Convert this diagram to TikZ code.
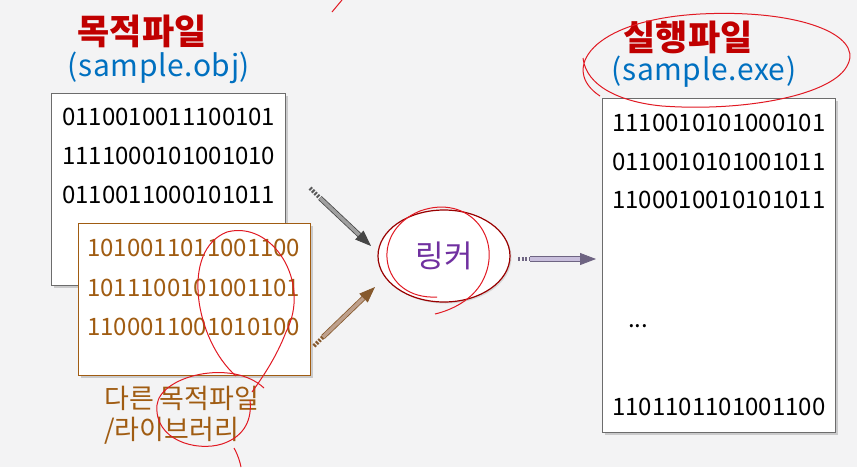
\documentclass[tikz,border=0pt]{standalone}
\usepackage{fontspec}
\setmainfont{Noto Sans CJK KR}
\newfontfamily\namefont[LetterSpace=2]{Noto Sans CJK KR}
\usepackage{tikz}
\usetikzlibrary{arrows.meta}
\usetikzlibrary{shapes.geometric,shadows}
\usetikzlibrary{positioning}

\definecolor{titlered}{RGB}{192,0,0}
\definecolor{nameblue}{RGB}{0,112,192}
\definecolor{libbrown}{RGB}{160,92,18}
\definecolor{linkpurple}{RGB}{112,48,160}
\definecolor{penred}{RGB}{225,25,35}
\definecolor{bggray}{RGB}{243,243,244}
\definecolor{tanfill}{RGB}{190,160,140}
\definecolor{lavline}{RGB}{110,100,130}
\definecolor{lavfill}{RGB}{200,190,220}

\tikzset{
  filebox/.style={draw=gray!85!black, line width=1.3pt, fill=white, anchor=north west,
    drop shadow={shadow xshift=2.5pt, shadow yshift=-2.5pt, opacity=.35}},
  bits/.style={anchor=west, inner sep=0pt, font=\fontsize{24}{24}\selectfont},
  title/.style={text=titlered, font=\fontsize{35}{35}\selectfont\bfseries},
  filename/.style={text=nameblue, font=\fontsize{30}{30}\selectfont\namefont},
  dots/.style={line width=4pt, dash pattern=on 2pt off 1.5pt},
  feed/.style={double distance=3.5pt, line width=.8pt, -{Triangle[length=16pt,width=12pt]}},
  pen/.style={draw=penred, line width=1pt},
}

\begin{document}
\begin{tikzpicture}[x=1pt, y=-1pt]
\fill[bggray] (0,0) rectangle (857,467);
\useasboundingbox (0,0) rectangle (857,467);
%
% object file
\node[title] (objtitle) at (142,31) {목적파일};
\node[filename] (objname) at (159,68) {(sample.obj)};
\node[filebox, minimum width=234pt, minimum height=192pt] (objbox) at (51,93) {};
\node[bits] (obja) at (62,117) {0110010011100101};
\node[bits] (objb) at (62,156) {1111000101001010};
\node[bits] (objc) at (62,195) {0110011000101011};
%
% other object file / library
\node[filebox, draw=libbrown, minimum width=232pt, minimum height=152pt] (libbox) at (78,223) {};
\node[bits, text=libbrown] (liba) at (87,248) {1010011011001100};
\node[bits, text=libbrown] (libb) at (87,288) {1011100101001101};
\node[bits, text=libbrown] (libc) at (87,327) {1100011001010100};
\node[anchor=north west, align=left, text=libbrown, inner sep=0pt,
  font=\fontsize{27}{31}\selectfont] (libname) at (104,386) {다른 목적파일\\/라이브러리};
%
% linker
\node[ellipse, draw=red!60!black, line width=1.2pt, fill=white, minimum width=132pt, minimum height=92pt,
  drop shadow={shadow xshift=1.5pt, shadow yshift=-1.5pt, opacity=.25},
  text=linkpurple, font=\fontsize{31}{31}\selectfont] (linker) at (444,256) {링커};
%
% executable file
\node[title] (exetitle) at (688,37) {실행파일};
\node[filename] (exename) at (704,72) {(sample.exe)};
\node[filebox, minimum width=233pt, minimum height=334pt] (exebox) at (602,98) {};
\node[bits] (exea) at (612,123) {1110010101000101};
\node[bits] (exeb) at (612,162) {0110010101001011};
\node[bits] (exec) at (612,200) {1100010010101011};
\node[bits, anchor=base west] (exedots) at (628,327) {...};
\node[bits] (exed) at (612,407) {1101101101001100};
%
% arrows
\coordinate (objtail) at (310,188);
\coordinate (objout) at (320,198);
\coordinate (objin) at (371,246);
\coordinate (libtail) at (314,346);
\coordinate (libout) at (323,337);
\coordinate (libin) at (375,287);
\coordinate (linktail) at (518,259);
\coordinate (linkout) at (530,259);
\coordinate (exein) at (596,259);
\draw[dots, gray!70!black] (objtail) -- (objout);
\draw[feed, draw=gray!55!black, double=gray!75] (objout) -- (objin);
\draw[dots, brown!70!black] (libtail) -- (libout);
\draw[feed, draw=brown!70!black, double=tanfill] (libout) -- (libin);
\draw[dots, lavline] (linktail) -- (linkout);
\draw[feed, draw=lavline, double=lavfill] (linkout) -- (exein);
%
% pen marks
\draw[pen] (332,12) -- (342,0);
\draw[pen] (600,96) .. controls (560,70) and (590,20) .. (700,14) .. controls (800,9) and (862,35) .. (848,64)
  .. controls (835,95) and (745,112) .. (662,106) .. controls (620,102) and (586,86) .. (583,58);
\draw[pen] (437,297) .. controls (380,300) and (368,232) .. (420,211) .. controls (470,193) and (505,240) .. (482,282)
  .. controls (472,300) and (452,310) .. (435,314);
\draw[pen] (236,376) .. controls (195,340) and (180,250) .. (227,232) .. controls (272,220) and (312,282) .. (286,332)
  .. controls (276,358) and (262,378) .. (252,392);
\draw[pen] (264,388) .. controls (232,358) and (160,376) .. (157,405) .. controls (154,440) and (196,452) .. (222,444)
  .. controls (246,436) and (252,418) .. (250,400);
\draw[pen] (234,448) .. controls (238,455) and (240,462) .. (241,467);
\end{tikzpicture}
\end{document}
